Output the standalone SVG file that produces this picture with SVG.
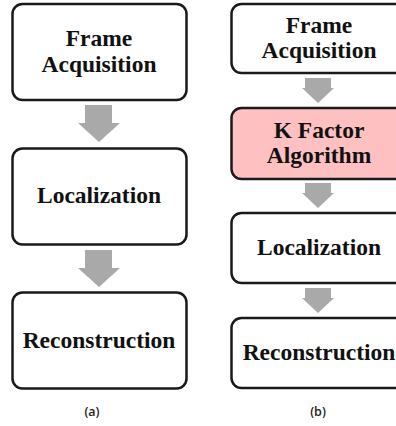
<svg xmlns="http://www.w3.org/2000/svg" width="396" height="426" viewBox="0 0 396 426">
<style>
.box{fill:#fff;stroke:#1a1a1a;stroke-width:2.5}
.pink{fill:#fec0c0}
.t{font-family:"Liberation Serif","Times New Roman",serif;font-weight:bold;font-size:23.5px;fill:#111;text-anchor:middle}
.arr{fill:#a9a9a9}
.lab{font-family:"Open Sans","Liberation Sans",sans-serif;font-size:12.5px;font-weight:600;fill:#222;text-anchor:middle}
</style>
<rect width="396" height="426" fill="#fff"/>
<g id="connectors">
<polygon class="arr" points="85,105 112,105 112,123 120,123 99,142 78,123 85,123"/>
<polygon class="arr" points="85,250 112,250 112,268 120,268 99,287 78,268 85,268"/>
<polygon class="arr" points="305,78 331,78 331,88 334,88 318,103 302,88 305,88"/>
<polygon class="arr" points="305,183 331,183 331,193 334,193 318,208 302,193 305,193"/>
<polygon class="arr" points="305,288 331,288 331,298 334,298 318,313 302,298 305,298"/>
</g>
<g id="a-frame"><rect class="box" x="12.5" y="4" width="174" height="96" rx="10"/><text class="t" x="99" y="46">Frame</text><text class="t" x="99" y="72">Acquisition</text></g>
<g id="a-loc"><rect class="box" x="12.5" y="148.5" width="174" height="96" rx="10"/><text class="t" x="99" y="203">Localization</text></g>
<g id="a-rec"><rect class="box" x="12.5" y="292.5" width="174" height="96" rx="10"/><text class="t" x="99" y="348">Reconstruction</text></g>
<g id="b-frame"><rect class="box" x="231.5" y="4" width="180" height="69" rx="10"/><text class="t" x="319" y="33">Frame</text><text class="t" x="319" y="58">Acquisition</text></g>
<g id="b-kfactor"><rect class="box pink" x="231.5" y="108" width="180" height="71" rx="10"/><text class="t" x="319" y="138">K Factor</text><text class="t" x="319" y="163">Algorithm</text></g>
<g id="b-loc"><rect class="box" x="231.5" y="213" width="180" height="70" rx="10"/><text class="t" x="319" y="255">Localization</text></g>
<g id="b-rec"><rect class="box" x="231.5" y="318" width="180" height="70" rx="10"/><text class="t" x="319" y="360">Reconstruction</text></g>
<text class="lab" x="92" y="416">(a)</text>
<text class="lab" x="318" y="416">(b)</text>
</svg>
